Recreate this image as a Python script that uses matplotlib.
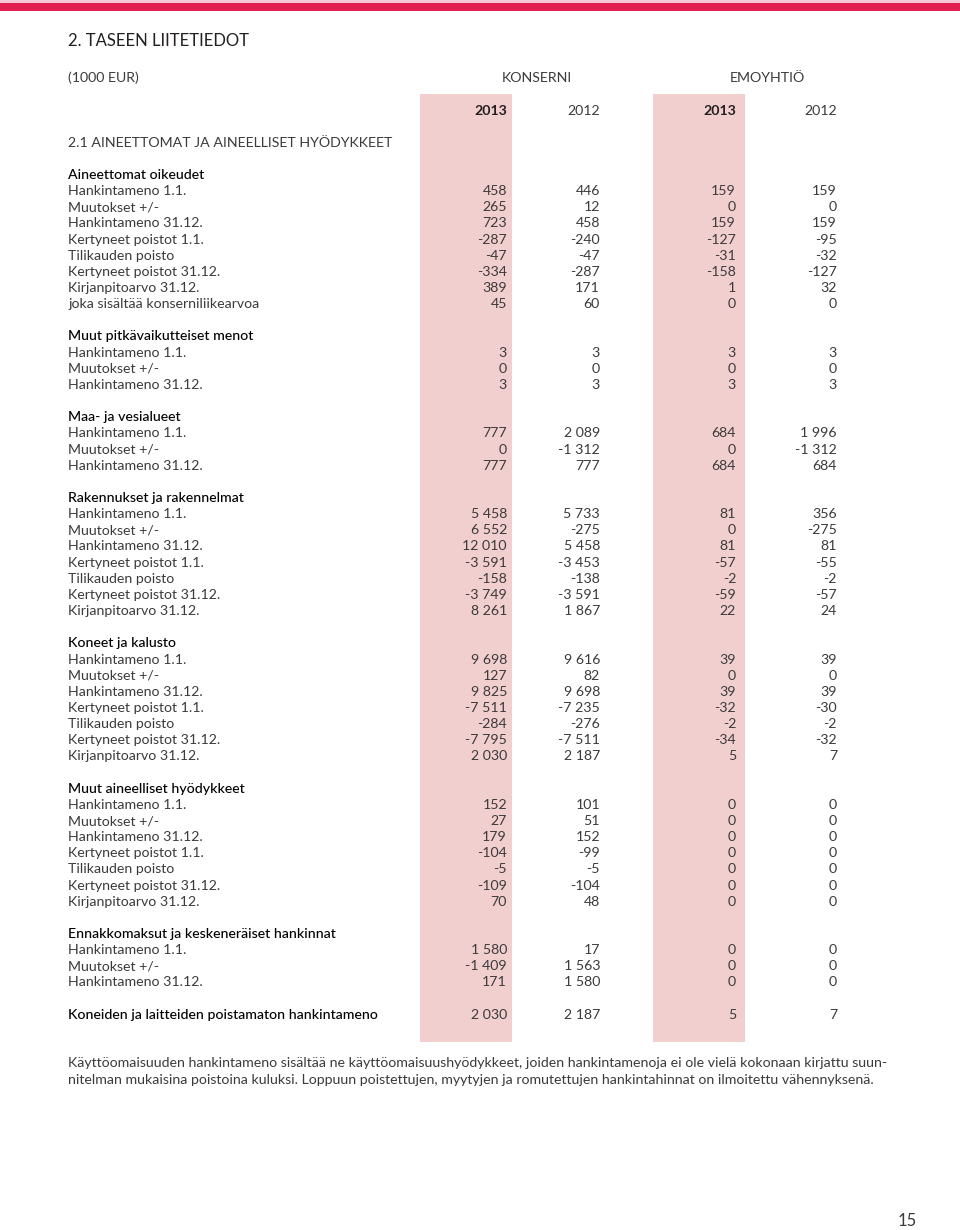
import matplotlib.pyplot as plt
from matplotlib.patches import Rectangle

# column headers
groups = ["KONSERNI", "EMOYHTIÖ"]
years = ["2013", "2012", "2013", "2012"]

# row labels
full_labels = ["Hankintameno 1.1.", "Muutokset +/-", "Hankintameno 31.12.",
               "Kertyneet poistot 1.1.", "Tilikauden poisto",
               "Kertyneet poistot 31.12.", "Kirjanpitoarvo 31.12."]
short_labels = ["Hankintameno 1.1.", "Muutokset +/-", "Hankintameno 31.12."]

# Aineettomat oikeudet
aine_labels = full_labels + ["joka sisältää konserniliikearvoa"]
aine_k13 = [458, 265, 723, -287, -47, -334, 389, 45]
aine_k12 = [446, 12, 458, -240, -47, -287, 171, 60]
aine_e13 = [159, 0, 159, -127, -31, -158, 1, 0]
aine_e12 = [159, 0, 159, -95, -32, -127, 32, 0]

# Muut pitkävaikutteiset menot
muut_k13 = [3, 0, 3]
muut_k12 = [3, 0, 3]
muut_e13 = [3, 0, 3]
muut_e12 = [3, 0, 3]

# Maa- ja vesialueet
maa_k13 = [777, 0, 777]
maa_k12 = [2089, -1312, 777]
maa_e13 = [684, 0, 684]
maa_e12 = [1996, -1312, 684]

# Rakennukset ja rakennelmat
rak_k13 = [5458, 6552, 12010, -3591, -158, -3749, 8261]
rak_k12 = [5733, -275, 5458, -3453, -138, -3591, 1867]
rak_e13 = [81, 0, 81, -57, -2, -59, 22]
rak_e12 = [356, -275, 81, -55, -2, -57, 24]

# Koneet ja kalusto
kon_k13 = [9698, 127, 9825, -7511, -284, -7795, 2030]
kon_k12 = [9616, 82, 9698, -7235, -276, -7511, 2187]
kon_e13 = [39, 0, 39, -32, -2, -34, 5]
kon_e12 = [39, 0, 39, -30, -2, -32, 7]

# Muut aineelliset hyödykkeet
mah_k13 = [152, 27, 179, -104, -5, -109, 70]
mah_k12 = [101, 51, 152, -99, -5, -104, 48]
mah_e13 = [0, 0, 0, 0, 0, 0, 0]
mah_e12 = [0, 0, 0, 0, 0, 0, 0]

# Ennakkomaksut ja keskeneräiset hankinnat
enn_k13 = [1580, -1409, 171]
enn_k12 = [17, 1563, 1580]
enn_e13 = [0, 0, 0]
enn_e12 = [0, 0, 0]

# Koneiden ja laitteiden poistamaton hankintameno
total_label = "Koneiden ja laitteiden poistamaton hankintameno"
total_values = [2030, 2187, 5, 7]

sections = [
    ("Aineettomat oikeudet", aine_labels, [aine_k13, aine_k12, aine_e13, aine_e12]),
    ("Muut pitkävaikutteiset menot", short_labels, [muut_k13, muut_k12, muut_e13, muut_e12]),
    ("Maa- ja vesialueet", short_labels, [maa_k13, maa_k12, maa_e13, maa_e12]),
    ("Rakennukset ja rakennelmat", full_labels, [rak_k13, rak_k12, rak_e13, rak_e12]),
    ("Koneet ja kalusto", full_labels, [kon_k13, kon_k12, kon_e13, kon_e12]),
    ("Muut aineelliset hyödykkeet", full_labels, [mah_k13, mah_k12, mah_e13, mah_e12]),
    ("Ennakkomaksut ja keskeneräiset hankinnat", short_labels, [enn_k13, enn_k12, enn_e13, enn_e12]),
]


def fmt(v):
    return f"{v:,}".replace(",", " ")


plt.rcParams['font.family'] = ['Lato', 'DejaVu Sans']
TEXT = '#231f20'
BODY = '#3c3a3b'
PINK = '#f2cfcf'
RED = '#e2204f'

fig = plt.figure(figsize=(9.6, 12.3), dpi=100)
ax = fig.add_axes([0, 0, 1, 1])
ax.set_xlim(0, 960)
ax.set_ylim(1230, 0)
ax.axis('off')

# top band
ax.add_patch(Rectangle((0, 0), 960, 3, color='#f6c9d4', lw=0))
ax.add_patch(Rectangle((0, 3), 960, 8, color=RED, lw=0))

col_right = [507, 600, 736, 837]
pink_cols = [(420, 512), (653, 745)]
for x0, x1 in pink_cols:
    ax.add_patch(Rectangle((x0, 94), x1 - x0, 948, color=PINK, lw=0))

left = 68
fs = 10.2
ax.text(left, 41, "2. TASEEN LIITETIEDOT", fontsize=12, color=TEXT, va='center')
ax.text(left, 78, "(1000 EUR)", fontsize=fs, color=BODY, va='center')
ax.text(537, 78, groups[0], fontsize=fs, color=BODY, va='center', ha='center')
ax.text(767, 78, groups[1], fontsize=fs, color=BODY, va='center', ha='center')
for i, yr in enumerate(years):
    ax.text(col_right[i], 111, yr, fontsize=fs, va='center', ha='right',
            color=TEXT if i % 2 == 0 else BODY,
            fontweight='bold' if i % 2 == 0 else 'normal')
ax.text(left, 143, "2.1 AINEETTOMAT JA AINEELLISET HYÖDYKKEET", fontsize=fs,
        color=BODY, va='center')

y0 = 175
dy = 16.15
row = 0
for title, labels, cols in sections:
    ax.text(left, y0 + row * dy, title, fontsize=fs, color='black', va='center',
            fontweight='medium')
    row += 1
    for j, lab in enumerate(labels):
        y = y0 + row * dy
        ax.text(left, y, lab, fontsize=fs, color=BODY, va='center')
        for c, vals in enumerate(cols):
            ax.text(col_right[c], y, fmt(vals[j]), fontsize=fs, color=BODY,
                    va='center', ha='right')
        row += 1
    row += 1

y = y0 + row * dy
ax.text(left, y, total_label, fontsize=fs, color='black', va='center', fontweight='medium')
for c, v in enumerate(total_values):
    ax.text(col_right[c], y, fmt(v), fontsize=fs, color=BODY, va='center', ha='right')

note1 = ("Käyttöomaisuuden hankintameno sisältää ne käyttöomaisuushyödykkeet, "
         "joiden hankintamenoja ei ole vielä kokonaan kirjattu suun-")
note2 = ("nitelman mukaisina poistoina kuluksi. Loppuun poistettujen, myytyjen ja "
         "romutettujen hankintahinnat on ilmoitettu vähennyksenä.")
ax.text(left, 1063, note1, fontsize=fs, color=BODY, va='center')
ax.text(left, 1080, note2, fontsize=fs, color=BODY, va='center')

ax.text(917, 1221, "15", fontsize=12, color=BODY, va='center', ha='right')

fig.savefig("out.png", dpi=100)
